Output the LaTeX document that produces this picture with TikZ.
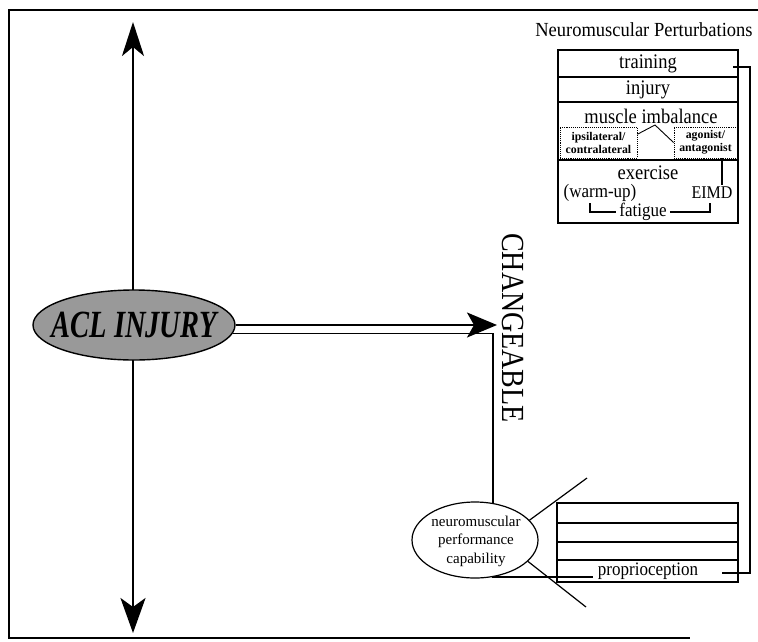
\documentclass[tikz,border=0pt]{standalone}
\usepackage{fontspec}
\setmainfont{Liberation Serif}
\usepackage{graphicx}
\usetikzlibrary{arrows.meta,shapes.geometric,calc}
\newcommand\tallt[1]{\scalebox{1}[1.12]{#1}}
\begin{document}
\begin{tikzpicture}[x=1pt,y=-1pt,
  frame/.style={line width=1.6pt},
  cell/.style={draw,line width=1.2pt,inner sep=0pt,minimum width=180pt},
  pcell/.style={draw,line width=1.2pt,inner sep=0pt,minimum width=181pt},
  sub/.style={draw,densely dotted,line width=0.9pt,inner sep=0pt,align=center,font=\bfseries\fontsize{11.8}{13}\selectfont},
  conn/.style={line width=1.2pt},
  boxtext/.style={inner sep=0pt,font=\fontsize{18.5}{20}\selectfont},
  smalltext/.style={inner sep=0pt,font=\fontsize{17}{19}\selectfont},
]
\useasboundingbox (0,0) rectangle (758,641);
% frame
\coordinate (f0) at (758,10);
\coordinate (f1) at (9,10);
\coordinate (f2) at (9,638);
\coordinate (f3) at (690,638);
\draw[frame] (f0) -- (f1) -- (f2) -- (f3);
% vertical double arrow
\coordinate (vtop) at (133,22);
\coordinate (vbot) at (133,633);
\draw[line width=2.4pt,{Stealth[length=34pt,width=22pt,inset=9pt]}-{Stealth[length=35pt,width=25pt,inset=9pt]}] (vtop) -- (vbot);
% ACL ellipse
\node[ellipse,draw,line width=1.4pt,fill=gray!80,minimum width=202pt,minimum height=70pt,inner sep=0pt] (acl) at (134,325) {};
\node[inner sep=0pt] (acltext) at (acl) {\scalebox{1}[1.35]{\bfseries\itshape\fontsize{28.5}{30}\selectfont ACL INJURY}};
% horizontal arrow
\coordinate (htip) at (497,325);
\draw[line width=1.8pt,-{Stealth[length=30pt,width=25pt,inset=7pt]}] (acl.east) -- (htip);
\coordinate (hbend) at (493,333);
\coordinate (jL) at (593,577);
\draw[conn] (acl.-5) -- (acl.-5 -| hbend) |- (jL);
% CHANGEABLE
\node[rotate=-90,inner sep=0pt] (chg) at (513,328) {\scalebox{1}[1.15]{\fontsize{28}{30}\selectfont CHANGEABLE}};
% Neuromuscular perturbations
\node[inner sep=0pt,font=\fontsize{18.5}{20}\selectfont] (title) at (644,30) {\scalebox{1}[1.08]{Neuromuscular Perturbations}};
\node[cell,minimum height=27pt,boxtext] (training) at (648,63.5) {\tallt{training}};
\node[cell,minimum height=25pt,boxtext] (injury) at (648,89.5) {\tallt{injury}};
\node[cell,minimum height=58pt] (muscle) at (648,131) {};
\node[cell,minimum height=63pt] (exercise) at (648,191.5) {};
\node[boxtext] (mtext) at (651,116) {\tallt{muscle imbalance}};
\node[boxtext] (etext) at (648,173) {\tallt{exercise}};
\node[sub,minimum width=77pt,minimum height=31pt] (ipsi) at (598.5,142.5) {ipsilateral/\\contralateral};
\node[sub,minimum width=63pt,minimum height=31pt] (ago) at (705.5,142.5) {agonist/\\antagonist};
\coordinate (peak) at (655,125);
\draw[line width=0.9pt] (ipsi.12) -- (peak) -- (ago.west);
\node[smalltext] (warm) at (600,193) {\tallt{(warm-up)}};
\node[inner sep=0pt,font=\fontsize{16}{18}\selectfont] (eimd) at (712,193) {\tallt{EIMD}};
\coordinate (ev) at (722,185);
\draw[conn] (ago.south -| ev) -- (ev);
\node[smalltext,inner sep=3pt] (fat) at (643,212) {\tallt{fatigue}};
\coordinate (bl) at (590,203);
\coordinate (br) at (710,203);
\draw[conn] (bl) |- (fat.west);
\draw[conn] (fat.east) -| (br);
% connector from training
\coordinate (tr) at (733,67);
\coordinate (jR) at (722,573);
\draw[conn] (tr) -- ++(17,0) |- (jR);
% proprioception box
\node[pcell,minimum height=20pt] (p1) at (647.5,513) {};
\node[pcell,minimum height=19pt] (p2) at (647.5,532.5) {};
\node[pcell,minimum height=18pt] (p3) at (647.5,551) {};
\node[pcell,minimum height=22pt] (p4) at (647.5,571) {};
\node[smalltext] (prop) at (648,571) {\tallt{proprioception}};
% NMP ellipse
\node[ellipse,draw,line width=1.2pt,fill=white,minimum width=126pt,minimum height=76pt,inner sep=0pt] (nmp) at (475,540) {};
\node[align=center,inner sep=0pt,font=\fontsize{15}{18.5}\selectfont] (nmptext) at (476,541) {neuromuscular\\performance\\capability};
\coordinate (ru) at (587,478);
\coordinate (rd) at (586,607);
\draw[conn] (nmp.20) -- (ru);
\draw[conn] (nmp.-22) -- (rd);
\end{tikzpicture}
\end{document}
